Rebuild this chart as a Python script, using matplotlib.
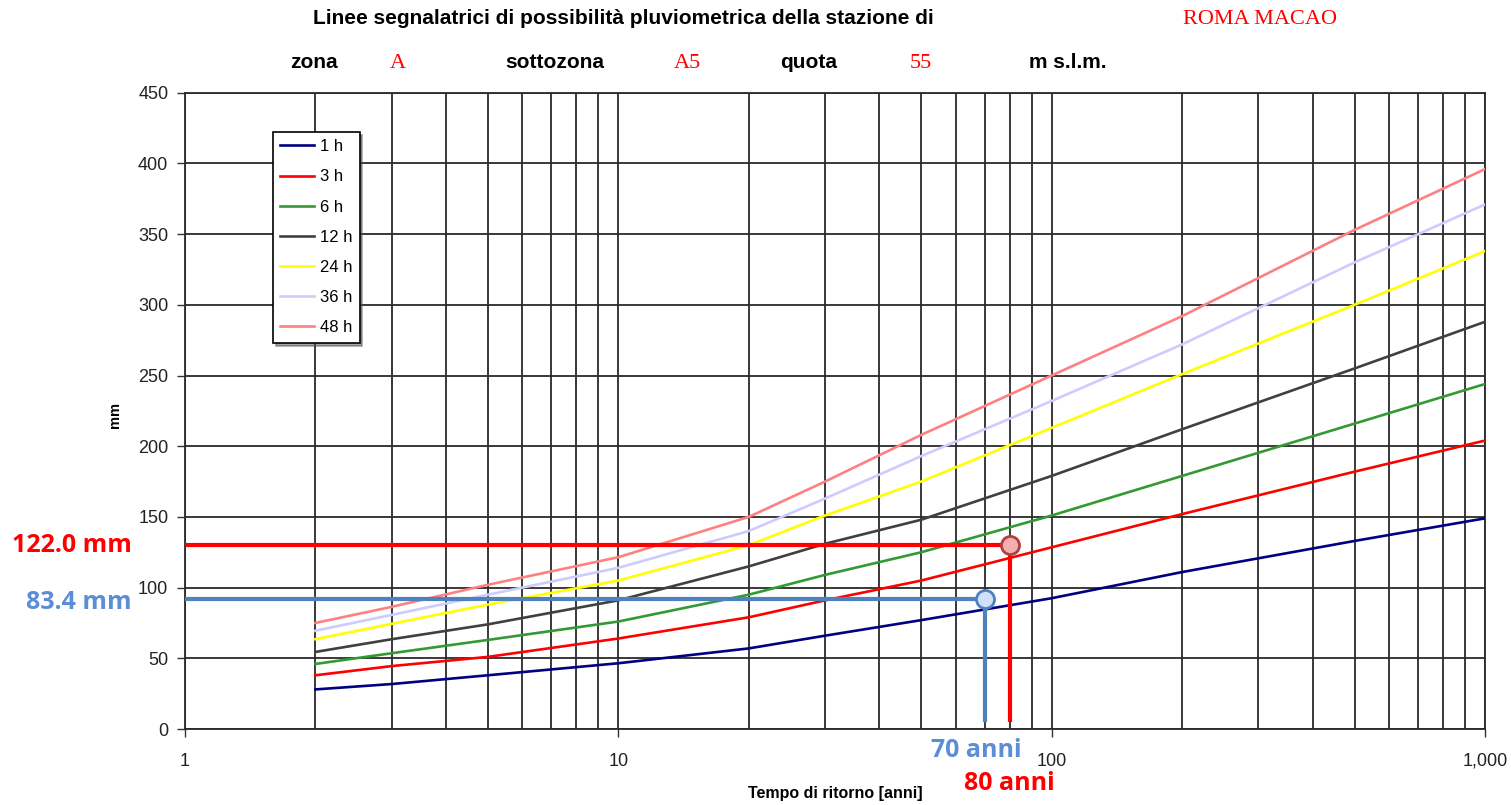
import matplotlib
matplotlib.use("Agg")
import matplotlib.pyplot as plt
from matplotlib.ticker import LogLocator, FixedLocator, NullFormatter

plt.rcParams['font.family'] = ['Liberation Sans', 'DejaVu Sans']

# return period [anni] and rainfall depth [mm] per duration
tr = [2, 3, 5, 10, 20, 30, 50, 100, 200, 500, 1000]
h1 = [28, 31.8, 38, 46.5, 57, 66, 77, 92.5, 111, 133, 149]
h3 = [38, 44.5, 51, 64, 79, 91, 105, 128.5, 152, 182, 204]
h6 = [46, 53.6, 63, 76, 95, 109, 125, 151, 179, 216, 244]
h12 = [54.5, 63.5, 74, 91, 115, 131, 148, 179, 212, 255, 288]
h24 = [63.5, 74.4, 88, 105, 130, 151, 175, 213, 251, 300, 338]
h36 = [69.5, 80.7, 95, 114, 140, 163, 193, 232, 272, 330, 371]
h48 = [75, 86.4, 102, 121.5, 150, 175, 208, 250, 292, 353, 396]

series = [h1, h3, h6, h12, h24, h36, h48]
labels = ['1 h', '3 h', '6 h', '12 h', '24 h', '36 h', '48 h']
colors = ['#000080', '#FF0000', '#339933', '#404040', '#FFFF00', '#CCCCFF', '#FF8080']

# read-off annotations
tr_red, mm_red = 80, 130
tr_blue, mm_blue = 70, 92
red_label, blue_label = '122.0 mm', '83.4 mm'
red_year, blue_year = '80 anni', '70 anni'

RED = '#FF0000'
BLUE = '#4F81BD'
BLUE_TXT = '#5B8ED6'

W, H = 1511, 805
fig = plt.figure(figsize=(W / 100, H / 100), dpi=100)
ax = fig.add_axes([0.1224, 0.0944, 0.8604, 0.7904])

for vals, lab, col in zip(series, labels, colors):
    ax.plot(tr, vals, color=col, lw=1.9, label=lab, zorder=3)

ax.set_xscale('log')
ax.set_xlim(1, 1000)
ax.set_ylim(0, 450)
ax.set_yticks(range(0, 451, 50))
ax.xaxis.set_major_locator(FixedLocator([1, 10, 100, 1000]))
ax.set_xticklabels(['1', '10', '100', '1,000'])
ax.xaxis.set_minor_locator(LogLocator(base=10, subs=range(2, 10)))
ax.xaxis.set_minor_formatter(NullFormatter())
ax.grid(True, which='both', axis='x', color='#2a2a2a', lw=1.3, zorder=1)
ax.grid(True, which='major', axis='y', color='#2a2a2a', lw=1.3, zorder=1)
ax.tick_params(axis='x', which='minor', length=0)
ax.tick_params(axis='both', which='major', length=6, width=1, color='#333333',
               labelsize=13, labelcolor='#222222')
ax.tick_params(axis='x', which='major', pad=11)
ax.tick_params(axis='y', which='major', pad=6)
for s in ax.spines.values():
    s.set_color('#2a2a2a')
    s.set_linewidth(1.3)

fig.text(115 / W, 1 - 415 / H, 'mm', rotation=90, fontsize=10.5, fontweight='bold',
         ha='center', va='center')
fig.text(835 / W, 1 - 793 / H, 'Tempo di ritorno [anni]', fontsize=11.5,
         fontweight='bold', ha='center', va='center')

leg = ax.legend(loc='upper left', bbox_to_anchor=(0.0677, 0.9387), borderaxespad=0,
                frameon=True, fancybox=False, shadow=True, fontsize=12,
                labelspacing=0.91, handlelength=2.0, handletextpad=0.35,
                borderpad=0.45)
leg.get_frame().set_edgecolor('black')
leg.get_frame().set_linewidth(1.2)
leg.get_frame().set_alpha(1)
leg.set_zorder(6)

# construction lines to the curves
ax.plot([1, tr_red], [mm_red, mm_red], color=RED, lw=3, zorder=4, solid_capstyle='butt')
ax.plot([tr_red, tr_red], [mm_red, 5], color=RED, lw=3, zorder=4, solid_capstyle='butt')
ax.plot([1, tr_blue], [mm_blue, mm_blue], color=BLUE, lw=3, zorder=4, solid_capstyle='butt')
ax.plot([tr_blue, tr_blue], [mm_blue, 5], color=BLUE, lw=3, zorder=4, solid_capstyle='butt')
ax.plot([tr_red], [mm_red], 'o', ms=13, mfc='#F4B0B0', mec='#B04040', mew=2, zorder=5)
ax.plot([tr_blue], [mm_blue], 'o', ms=13, mfc='#D0E0F8', mec='#4F81BD', mew=2, zorder=5)

ann = dict(fontsize=18, fontweight='bold', family=['Open Sans', 'DejaVu Sans'])
fig.text(132 / W, 1 - 545 / H, red_label, color=RED, ha='right', va='center', **ann)
fig.text(132 / W, 1 - 602 / H, blue_label, color=BLUE_TXT, ha='right', va='center', **ann)
fig.text(976 / W, 1 - 750 / H, blue_year, color=BLUE_TXT, ha='center', va='center', **ann)
fig.text(1009 / W, 1 - 783 / H, red_year, color=RED, ha='center', va='center', **ann)

# header
hdr = dict(fontsize=15, fontweight='bold', va='center')
red_hdr = dict(fontsize=16, color=RED, va='center', family=['Liberation Serif', 'DejaVu Serif'])
fig.text(313 / W, 1 - 19 / H,
         'Linee segnalatrici di possibilità pluviometrica della stazione di', **hdr)
fig.text(1183 / W, 1 - 19 / H, 'ROMA MACAO', **red_hdr)
y2 = 1 - 63 / H
fig.text(290 / W, y2, 'zona', **hdr)
fig.text(390 / W, y2, 'A', **red_hdr)
fig.text(505 / W, y2, 'sottozona', **hdr)
fig.text(674 / W, y2, 'A5', **red_hdr)
fig.text(780 / W, y2, 'quota', **hdr)
fig.text(910 / W, y2, '55', **red_hdr)
fig.text(1029 / W, y2, 'm s.l.m.', **hdr)

fig.savefig('out.png', dpi=100, facecolor='white')
